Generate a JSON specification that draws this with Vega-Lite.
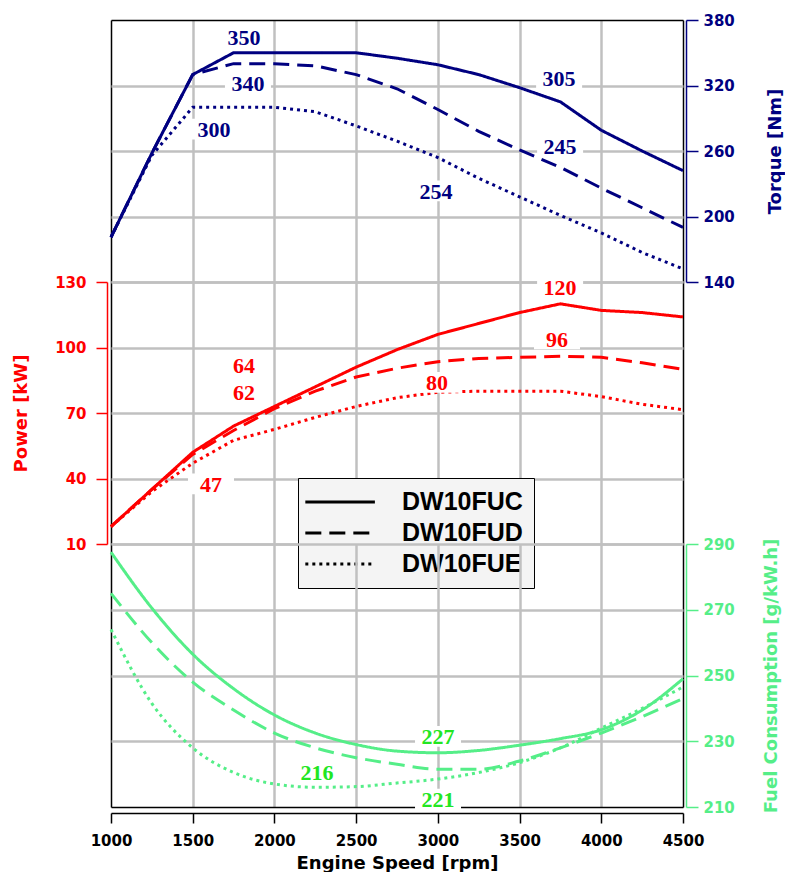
{
  "$schema": "https://vega.github.io/schema/vega-lite/v6.json",
  "padding": {"left": 12, "top": 13, "right": 0, "bottom": 0},
  "spacing": 0,
  "bounds": "flush",
  "resolve": {"scale": {"strokeDash": "independent"}, "legend": {"strokeDash": "independent"}},
  "config": {
    "view": {"stroke": null},
    "axis": {
      "labelFont": "DejaVu Sans", "labelFontWeight": "bold", "labelFontSize": 15,
      "titleFont": "DejaVu Sans", "titleFontWeight": "bold", "titleFontSize": 18,
      "gridColor": "#c0c0c0", "gridWidth": 2.5, "labelFlush": false, "labelOverlap": false
    }
  },
  "datasets": {
    "curves": [
      {"rpm": 1000, "model": "DW10FUC", "torque": 181, "power": 18, "fuel": 287.5},
      {"rpm": 1250, "model": "DW10FUC", "torque": 258, "power": 35, "fuel": 270.5},
      {"rpm": 1500, "model": "DW10FUC", "torque": 330, "power": 52, "fuel": 256.5},
      {"rpm": 1750, "model": "DW10FUC", "torque": 350, "power": 64, "fuel": 246},
      {"rpm": 2000, "model": "DW10FUC", "torque": 350, "power": 73, "fuel": 238},
      {"rpm": 2250, "model": "DW10FUC", "torque": 350, "power": 82, "fuel": 232.5},
      {"rpm": 2500, "model": "DW10FUC", "torque": 350, "power": 91, "fuel": 229},
      {"rpm": 2750, "model": "DW10FUC", "torque": 345, "power": 99, "fuel": 227},
      {"rpm": 3000, "model": "DW10FUC", "torque": 339, "power": 106, "fuel": 226.5},
      {"rpm": 3250, "model": "DW10FUC", "torque": 330, "power": 111, "fuel": 227.2},
      {"rpm": 3500, "model": "DW10FUC", "torque": 318, "power": 116, "fuel": 228.8},
      {"rpm": 3750, "model": "DW10FUC", "torque": 305, "power": 120, "fuel": 230.8},
      {"rpm": 4000, "model": "DW10FUC", "torque": 279, "power": 117, "fuel": 233.5},
      {"rpm": 4250, "model": "DW10FUC", "torque": 260, "power": 116, "fuel": 239.5},
      {"rpm": 4500, "model": "DW10FUC", "torque": 242, "power": 114, "fuel": 249},
      {"rpm": 1000, "model": "DW10FUD", "torque": 181, "power": 18, "fuel": 275},
      {"rpm": 1250, "model": "DW10FUD", "torque": 258, "power": 35, "fuel": 260},
      {"rpm": 1500, "model": "DW10FUD", "torque": 330, "power": 51, "fuel": 248},
      {"rpm": 1750, "model": "DW10FUD", "torque": 340, "power": 62, "fuel": 239.5},
      {"rpm": 2000, "model": "DW10FUD", "torque": 340, "power": 72, "fuel": 232.5},
      {"rpm": 2250, "model": "DW10FUD", "torque": 338, "power": 80, "fuel": 228},
      {"rpm": 2500, "model": "DW10FUD", "torque": 330, "power": 86.5, "fuel": 225},
      {"rpm": 2750, "model": "DW10FUD", "torque": 317, "power": 90.5, "fuel": 223},
      {"rpm": 3000, "model": "DW10FUD", "torque": 298, "power": 93.5, "fuel": 221.5},
      {"rpm": 3250, "model": "DW10FUD", "torque": 278, "power": 95, "fuel": 221.5},
      {"rpm": 3500, "model": "DW10FUD", "torque": 261, "power": 95.5, "fuel": 224},
      {"rpm": 3750, "model": "DW10FUD", "torque": 245, "power": 96, "fuel": 228},
      {"rpm": 4000, "model": "DW10FUD", "torque": 226, "power": 95.5, "fuel": 232.5},
      {"rpm": 4250, "model": "DW10FUD", "torque": 208, "power": 93, "fuel": 237.5},
      {"rpm": 4500, "model": "DW10FUD", "torque": 190, "power": 90, "fuel": 243},
      {"rpm": 1000, "model": "DW10FUE", "torque": 181, "power": 18, "fuel": 264},
      {"rpm": 1250, "model": "DW10FUE", "torque": 256, "power": 34, "fuel": 241.5},
      {"rpm": 1500, "model": "DW10FUE", "torque": 300, "power": 47, "fuel": 228},
      {"rpm": 1750, "model": "DW10FUE", "torque": 300, "power": 57.5, "fuel": 220.5},
      {"rpm": 2000, "model": "DW10FUE", "torque": 300, "power": 62.5, "fuel": 217},
      {"rpm": 2250, "model": "DW10FUE", "torque": 296, "power": 68, "fuel": 216},
      {"rpm": 2500, "model": "DW10FUE", "torque": 283, "power": 73, "fuel": 216.2},
      {"rpm": 2750, "model": "DW10FUE", "torque": 269, "power": 77, "fuel": 217.3},
      {"rpm": 3000, "model": "DW10FUE", "torque": 254, "power": 79.5, "fuel": 218.5},
      {"rpm": 3250, "model": "DW10FUE", "torque": 235, "power": 80, "fuel": 220.5},
      {"rpm": 3500, "model": "DW10FUE", "torque": 218, "power": 80, "fuel": 223.5},
      {"rpm": 3750, "model": "DW10FUE", "torque": 201, "power": 80, "fuel": 228},
      {"rpm": 4000, "model": "DW10FUE", "torque": 185, "power": 77.5, "fuel": 234},
      {"rpm": 4250, "model": "DW10FUE", "torque": 167, "power": 74, "fuel": 240},
      {"rpm": 4500, "model": "DW10FUE", "torque": 152, "power": 71.5, "fuel": 246.5}
    ],
    "torqueLabels": [
      {"rpm": 1814, "torque": 364, "label": "350"},
      {"rpm": 1838, "torque": 322.7, "label": "340"},
      {"rpm": 1630, "torque": 280, "label": "300"},
      {"rpm": 3742, "torque": 327, "label": "305"},
      {"rpm": 3748, "torque": 264.6, "label": "245"},
      {"rpm": 2989, "torque": 223.4, "label": "254"}
    ],
    "powerLabels": [
      {"rpm": 3748, "power": 127.8, "label": "120"},
      {"rpm": 3729, "power": 103.9, "label": "96"},
      {"rpm": 2995, "power": 84, "label": "80"},
      {"rpm": 1814, "power": 92.2, "label": "64"},
      {"rpm": 1814, "power": 79.4, "label": "62"},
      {"rpm": 1612, "power": 37.5, "label": "47"}
    ],
    "fuelLabels": [
      {"rpm": 3001, "fuel": 231.5, "label": "227"},
      {"rpm": 2261, "fuel": 220.5, "label": "216"},
      {"rpm": 3001, "fuel": 212.4, "label": "221"}
    ]
  },
  "vconcat": [
    {
      "width": 572, "height": 262,
      "layer": [
        {
          "data": {"name": "curves"},
          "mark": {"type": "line", "color": "#000080", "strokeWidth": 3},
          "encoding": {
            "x": {"field": "rpm", "type": "quantitative", "scale": {"domain": [1000, 4500], "nice": false},
              "axis": {"values": [1000, 1500, 2000, 2500, 3000, 3500, 4000, 4500], "labels": false, "ticks": false, "domain": false, "title": null,
                "gridColor": {"condition": {"test": "datum.value === 1000 || datum.value === 4500", "value": "#000000"}, "value": "#c0c0c0"},
                "gridWidth": {"condition": {"test": "datum.value === 1000 || datum.value === 4500", "value": 1.5}, "value": 2.5}}},
            "y": {"field": "torque", "type": "quantitative", "scale": {"domain": [140, 380], "nice": false, "zero": false},
              "axis": {"orient": "right", "values": [140, 200, 260, 320, 380], "title": "Torque [Nm]", "titleAngle": 270,
                "offset": 3, "domainColor": "#000080", "domainWidth": 1.5, "tickColor": "#000080", "tickWidth": 1.5, "tickSize": 12,
                "labelColor": "#000080", "labelPadding": 5, "titleColor": "#000080", "titlePadding": 50,
                "gridColor": {"condition": {"test": "datum.value === 380", "value": "#000000"}, "value": "#c0c0c0"},
                "gridWidth": {"condition": {"test": "datum.value === 380", "value": 1.5}, "value": 2.5}}},
            "strokeDash": {"field": "model", "type": "nominal",
              "scale": {"domain": ["DW10FUC", "DW10FUD", "DW10FUE"], "range": [[1, 0], [16, 8], [3, 4]]}, "legend": null}
          }
        },
        {
          "data": {"name": "torqueLabels"},
          "mark": {"type": "point", "shape": "M-1,-0.45H1V0.45H-1Z", "filled": true, "color": "#ffffff", "opacity": 1, "size": 2116, "strokeWidth": 0},
          "encoding": {"x": {"field": "rpm", "type": "quantitative"}, "y": {"field": "torque", "type": "quantitative"}}
        },
        {
          "data": {"name": "torqueLabels"},
          "mark": {"type": "text", "font": "Liberation Serif", "fontWeight": "bold", "fontSize": 22, "color": "#000080", "baseline": "middle", "dy": 1},
          "encoding": {"x": {"field": "rpm", "type": "quantitative"}, "y": {"field": "torque", "type": "quantitative"}, "text": {"field": "label"}}
        }
      ]
    },
    {
      "width": 572, "height": 262,
      "layer": [
        {
          "data": {"name": "curves"},
          "mark": {"type": "line", "color": "#ff0000", "strokeWidth": 3},
          "encoding": {
            "x": {"field": "rpm", "type": "quantitative", "scale": {"domain": [1000, 4500], "nice": false},
              "axis": {"values": [1000, 1500, 2000, 2500, 3000, 3500, 4000, 4500], "labels": false, "ticks": false, "domain": false, "title": null,
                "gridColor": {"condition": {"test": "datum.value === 1000 || datum.value === 4500", "value": "#000000"}, "value": "#c0c0c0"},
                "gridWidth": {"condition": {"test": "datum.value === 1000 || datum.value === 4500", "value": 1.5}, "value": 2.5}}},
            "y": {"field": "power", "type": "quantitative", "scale": {"domain": [10, 130], "nice": false, "zero": false},
              "axis": {"orient": "left", "values": [10, 40, 70, 100, 130], "title": "Power [kW]",
                "offset": 4, "domainColor": "#ff0000", "domainWidth": 1.5, "tickColor": "#ff0000", "tickWidth": 1.5, "tickSize": 11,
                "labelColor": "#ff0000", "labelPadding": 10, "titleColor": "#ff0000", "titlePadding": 24}},
            "strokeDash": {"field": "model", "type": "nominal",
              "scale": {"domain": ["DW10FUC", "DW10FUD", "DW10FUE"], "range": [[1, 0], [16, 8], [3, 4]]},
              "legend": {"title": null, "orient": "none", "legendX": 187, "legendY": 196,
                "symbolType": "M-1.45,0H4.6", "symbolSize": 529, "symbolStrokeWidth": 3, "symbolStrokeColor": "#000000", "symbolFillColor": "transparent",
                "labelFont": "Liberation Sans", "labelFontWeight": "bold", "labelFontSize": 25, "labelColor": "#000000", "labelOffset": 67, "labelLimit": 300,
                "rowPadding": 5, "padding": 11, "fillColor": "#f4f4f4", "strokeColor": "#000000"}}
          }
        },
        {
          "data": {"name": "powerLabels"},
          "mark": {"type": "point", "shape": "M-1,-0.45H1V0.45H-1Z", "filled": true, "color": "#ffffff", "opacity": 1, "size": 2116, "strokeWidth": 0},
          "encoding": {"x": {"field": "rpm", "type": "quantitative"}, "y": {"field": "power", "type": "quantitative"}}
        },
        {
          "data": {"name": "powerLabels"},
          "mark": {"type": "text", "font": "Liberation Serif", "fontWeight": "bold", "fontSize": 22, "color": "#ff0000", "baseline": "middle", "dy": 1},
          "encoding": {"x": {"field": "rpm", "type": "quantitative"}, "y": {"field": "power", "type": "quantitative"}, "text": {"field": "label"}}
        }
      ]
    },
    {
      "width": 572, "height": 263,
      "layer": [
        {
          "data": {"name": "curves"},
          "mark": {"type": "line", "color": "#55ee88", "strokeWidth": 3, "interpolate": "monotone"},
          "encoding": {
            "x": {"field": "rpm", "type": "quantitative", "scale": {"domain": [1000, 4500], "nice": false},
              "axis": {"orient": "bottom", "values": [1000, 1500, 2000, 2500, 3000, 3500, 4000, 4500], "format": "d", "title": "Engine Speed [rpm]",
                "offset": 6, "domainColor": "#000000", "domainWidth": 1.5, "tickColor": "#000000", "tickWidth": 1.5, "tickSize": 10,
                "labelColor": "#000000", "labelPadding": 10, "titleColor": "#000000", "titlePadding": 6,
                "gridColor": {"condition": {"test": "datum.value === 1000 || datum.value === 4500", "value": "#000000"}, "value": "#c0c0c0"},
                "gridWidth": {"condition": {"test": "datum.value === 1000 || datum.value === 4500", "value": 1.5}, "value": 2.5}}},
            "y": {"field": "fuel", "type": "quantitative", "scale": {"domain": [210, 290], "nice": false, "zero": false},
              "axis": {"orient": "right", "values": [210, 230, 250, 270, 290], "title": "Fuel Consumption [g/kW.h]", "titleAngle": 270,
                "offset": 3, "domainColor": "#55ee88", "domainWidth": 1.5, "tickColor": "#55ee88", "tickWidth": 1.5, "tickSize": 12,
                "labelColor": "#55ee88", "labelPadding": 5, "titleColor": "#55ee88", "titlePadding": 46,
                "gridColor": {"condition": {"test": "datum.value === 210", "value": "#000000"}, "value": "#c0c0c0"},
                "gridWidth": {"condition": {"test": "datum.value === 210", "value": 1.5}, "value": 2.5}}},
            "strokeDash": {"field": "model", "type": "nominal",
              "scale": {"domain": ["DW10FUC", "DW10FUD", "DW10FUE"], "range": [[1, 0], [16, 8], [3, 4]]}, "legend": null}
          }
        },
        {
          "data": {"name": "fuelLabels"},
          "mark": {"type": "point", "shape": "M-1,-0.45H1V0.45H-1Z", "filled": true, "color": "#ffffff", "opacity": 1, "size": 2116, "strokeWidth": 0},
          "encoding": {"x": {"field": "rpm", "type": "quantitative"}, "y": {"field": "fuel", "type": "quantitative"}}
        },
        {
          "data": {"name": "fuelLabels"},
          "mark": {"type": "text", "font": "Liberation Serif", "fontWeight": "bold", "fontSize": 22, "color": "#22e622", "baseline": "middle", "dy": 1},
          "encoding": {"x": {"field": "rpm", "type": "quantitative"}, "y": {"field": "fuel", "type": "quantitative"}, "text": {"field": "label"}}
        }
      ]
    }
  ]
}
